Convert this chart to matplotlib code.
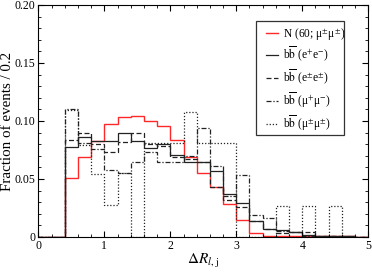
import matplotlib
matplotlib.use("Agg")
import matplotlib.pyplot as plt
import numpy as np
from matplotlib.ticker import MultipleLocator
from matplotlib.patches import Rectangle

plt.rcParams["font.family"] = "Liberation Serif"
plt.rcParams["mathtext.fontset"] = "stix"

edges = np.round(np.arange(0, 5.01, 0.2), 2)

N_mumu = [0, 0, 0.051, 0.0693, 0.083, 0.0977, 0.1034, 0.1043, 0.0997, 0.0957, 0.0836, 0.069, 0.0555,
          0.0431, 0.0287, 0.0147, 0.003, 0.001, 0.0005, 0.0005, 0.0005, 0.0005, 0.0005, 0.0005, 0]
bb_ee_os = [0, 0, 0.0776, 0.0859, 0.0828, 0.0828, 0.0897, 0.0825, 0.0764, 0.0805, 0.0705, 0.0644, 0.065,
            0.057, 0.037, 0.029, 0.0138, 0.007, 0.006, 0.004, 0.002, 0.001, 0.001, 0.0005, 0]
bb_ee_ss = [0, 0, 0.084, 0.090, 0.080, 0.0735, 0.0822, 0.0894, 0.0799, 0.078, 0.069, 0.067, 0.065,
            0.043, 0.032, 0.026, 0.014, 0.007, 0.003, 0.004, 0.004, 0.001, 0.001, 0.001, 0]
bb_mumu_os = [0, 0, 0.110, 0.081, 0.076, 0.058, 0.055, 0.065, 0.0736, 0.065, 0.065, 0.070, 0.094,
              0.061, 0.035, 0.053, 0.019, 0.016, 0.005, 0.004, 0.001, 0.001, 0.001, 0.001, 0]
bb_mumu_ss = [0, 0, 0.109, 0.079, 0.054, 0.0276, 0.055, 0, 0.081, 0.081, 0.081, 0.108, 0.081,
              0.081, 0.081, 0, 0, 0, 0.027, 0, 0.027, 0, 0.027, 0, 0]

labels = [r"N (60; μ$^{\pm}$μ$^{\pm}$)",
          r"b$\overline{\rm b}$ (e$^{+}$e$^{-}$)",
          r"b$\overline{\rm b}$ (e$^{\pm}$e$^{\pm}$)",
          r"b$\overline{\rm b}$ (μ$^{+}$μ$^{-}$)",
          r"b$\overline{\rm b}$ (μ$^{\pm}$μ$^{\pm}$)"]

fig = plt.figure(figsize=(3.72, 2.73), dpi=100)
ax = fig.add_axes([0.103, 0.132, 0.887, 0.850])

ax.stairs(N_mumu, edges, color="#ff2828", lw=1.0, label=labels[0], baseline=None)
ax.stairs(bb_ee_os, edges, color="#222222", lw=0.9, ls="-", label=labels[1], baseline=None)
ax.stairs(bb_ee_ss, edges, color="#222222", lw=0.9, ls=(0, (4, 2)), label=labels[2], baseline=None)
ax.stairs(bb_mumu_os, edges, color="#222222", lw=0.9, ls=(0, (4, 1.5, 1, 1.5)), label=labels[3], baseline=None)
ax.stairs(bb_mumu_ss, edges, color="#222222", lw=0.9, ls=(0, (1, 1.5)), label=labels[4], baseline=None)

ax.set_xlim(0, 5)
ax.set_ylim(0, 0.2)
ax.xaxis.set_major_locator(MultipleLocator(1))
ax.xaxis.set_minor_locator(MultipleLocator(0.2))
ax.yaxis.set_major_locator(MultipleLocator(0.05))
ax.yaxis.set_minor_locator(MultipleLocator(0.01))
ax.yaxis.set_major_formatter(plt.FuncFormatter(lambda v, p: "0" if v == 0 else f"{v:.2f}"))
ax.tick_params(which="both", direction="in", top=True, right=True, labelsize=8.5, pad=2)
ax.tick_params(which="major", length=4)
ax.tick_params(which="minor", length=2)

ax.set_xlabel(r"$\Delta R_{l,\,\mathrm{j}}$", fontsize=11, labelpad=0)
ax.set_ylabel("Fraction of events / 0.2", fontsize=10.8)
ax.yaxis.set_label_coords(-0.075, 0.5)

# legend box drawn separately so its padding matches the original
ax.add_patch(Rectangle((0.66, 0.44), 0.266, 0.492, transform=ax.transAxes,
                       fill=False, ec="#333333", lw=0.9, zorder=10))
leg = ax.legend(loc="center left", bbox_to_anchor=(0.672, 0.68), fontsize=8.3,
                frameon=False, handlelength=1.1, labelspacing=0.28,
                borderpad=0, handletextpad=0.35)

fig.savefig("out.png", dpi=100)
